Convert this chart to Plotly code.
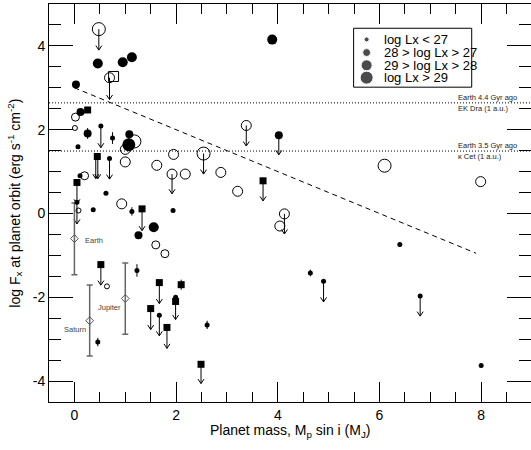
import plotly.graph_objects as go

# ---------------- data ----------------
# filled circles, by X-ray luminosity class
fs_x = [0.52, 0.75, 0.07, 0.69, 0.11, 0.62, 0.05, 0.37, 1.13, 1.94, 1.23, 1.67, 0.46, 2.61, 6.40, 4.64, 4.90, 6.80, 8.00, 1.99]
fs_y = [2.09, 1.80, 1.59, 1.31, 0.90, 0.48, 0.27, 0.09, 0.05, 0.07, -1.36, -2.43, -3.07, -2.66, -0.74, -1.42, -1.62, -1.97, -3.63, -2.00]
fs_err = [0, 0.14, 0, 0, 0, 0, 0, 0, 0.10, 0, 0.15, 0, 0.10, 0.10, 0, 0.08, 0, 0, 0, 0]

fm_x = [0.03, 0.12, 0.26, 1.08, 4.02, 1.26]
fm_y = [3.08, 2.42, 1.91, 1.89, 1.87, -0.52]
fm_err = [0, 0, 0.13, 0, 0, 0]

fl_x = [0.46, 0.95, 1.13, 3.89, 1.56]
fl_y = [3.58, 3.61, 3.73, 4.15, -0.33]

fx_x = [1.07]
fx_y = [1.64]

# open circles
os_x = [0.01, 0.08, 0.64]
os_y = [2.04, 0.07, -1.74]

om_x = [0.02, 0.20, 1.60, 1.78]
om_y = [2.30, 0.90, -0.75, -0.96]

ol_x = [0.69, 1.00, 3.38, 1.00, 1.62, 1.95, 1.92, 2.18, 2.88, 3.21, 0.93, 7.99, 4.13, 4.04]
ol_y = [3.24, 1.53, 2.10, 1.23, 1.15, 1.41, 0.94, 0.94, 0.98, 0.53, 0.23, 0.76, -0.01, -0.30]

ox_x = [0.48, 1.18, 2.54, 6.10]
ox_y = [4.40, 1.72, 1.43, 1.14]

# squares
sq_x = [0.26, 0.45, 0.05, 1.33, 0.52, 1.67, 2.10, 1.50, 1.82, 1.99, 2.49, 3.71]
sq_y = [2.47, 1.36, 0.74, 0.11, -1.22, -1.65, -1.70, -2.27, -2.72, -2.10, -3.60, 0.78]
sq_err = [0, 0, 0, 0, 0, 0, 0.12, 0, 0, 0, 0, 0]

osq_x = [0.77]
osq_y = [3.27]

# upper limits (arrows): x, from, to
arr_x = [0.48, 0.69, 0.52, 3.38, 4.02, 0.42, 0.46, 0.69, 1.92, 2.54, 0.05, 0.05, 1.33, 3.71,
         4.13, 0.52, 1.67, 1.50, 1.67, 1.82, 1.99, 2.49, 4.90, 6.80]
arr_y0 = [4.40, 3.24, 2.09, 2.10, 1.87, 1.36, 1.36, 1.31, 0.94, 1.43, 0.74, 0.27, 0.11, 0.78,
          -0.01, -1.22, -1.65, -2.27, -2.43, -2.72, -2.05, -3.60, -1.62, -1.97]
arr_y1 = [3.90, 2.72, 1.57, 1.61, 1.40, 0.83, 0.83, 0.82, 0.47, 0.94, 0.23, -0.25, -0.41, 0.30,
          -0.49, -1.71, -2.15, -2.77, -2.92, -3.22, -2.53, -4.06, -2.11, -2.45]

# solar-system planets
pl_names = ["Earth", "Saturn", "Jupiter"]
pl_x = [0.00, 0.30, 1.00]
pl_y = [-0.60, -2.56, -2.03]
pl_eplus = [0.85, 0.85, 0.85]
pl_eminus = [0.86, 0.84, 0.85]

# reference levels and trend
ref_y = [2.64, 1.49]
ref_above = ["Earth 4.4 Gyr ago", "Earth 3.5 Gyr ago"]
ref_below = ["EK Dra (1 a.u.)", "κ Cet (1 a.u.)"]
trend_x = [0.0, 7.9]
trend_y = [3.0, -0.95]

legend_labels = ["log Lx &lt; 27", "28 &gt; log Lx &gt; 27", "29 &gt; log Lx &gt; 28", "log Lx &gt; 29"]

x_tickvals = [0, 2, 4, 6, 8]
x_ticktext = ["0", "2", "4", "6", "8"]
y_tickvals = [-4, -2, 0, 2, 4]
y_ticktext = ["-4", "-2", "0", "2", "4"]

# ---------------- styles ----------------
S, M, L, XL = 5, 8, 10, 13
FONT = "Liberation Sans, Arial, Helvetica, sans-serif"
X_RANGE = [-0.5, 8.98]
Y_RANGE = [-4.5, 5.0]
PLOT_W, PLOT_H = 482, 398            # plot-area size in px (531-49, 450-4-48)
HEAD_W_PX, HEAD_H_PX = 3.0, 4.5      # arrow-head half width / height in px
hx = HEAD_W_PX * (X_RANGE[1] - X_RANGE[0]) / PLOT_W
hy = HEAD_H_PX * (Y_RANGE[1] - Y_RANGE[0]) / PLOT_H

fig = go.Figure()

# trend line
fig.add_trace(go.Scatter(x=trend_x, y=trend_y, mode="lines",
                         line=dict(color="black", width=1, dash="5px,4px"), hoverinfo="skip"))

# upper-limit arrows (shaft + open head), one path with gaps
ax_, ay_ = [], []
for x, y0, y1 in zip(arr_x, arr_y0, arr_y1):
    ax_ += [x, x, None, x - hx, x, x + hx, None]
    ay_ += [y0, y1, None, y1 + hy, y1, y1 + hy, None]
fig.add_trace(go.Scatter(x=ax_, y=ay_, mode="lines", line=dict(color="black", width=1),
                         connectgaps=False, hoverinfo="skip"))

# planets
fig.add_trace(go.Scatter(x=pl_x, y=pl_y, mode="markers",
                         marker=dict(symbol="diamond-open", size=6, color="#555", line=dict(width=1)),
                         error_y=dict(type="data", symmetric=False, array=pl_eplus, arrayminus=pl_eminus,
                                      color="#666", thickness=1.5, width=3)))


def add_pts(x, y, symbol, size, err=None):
    kw = {}
    if err is not None:
        kw["error_y"] = dict(type="data", array=err, color="black", thickness=1, width=0)
    if symbol.endswith("open"):
        marker = dict(symbol=symbol, size=size, color="black", line=dict(width=1, color="black"))
    else:
        marker = dict(symbol=symbol, size=size, color="black", line=dict(width=0))
    fig.add_trace(go.Scatter(x=x, y=y, mode="markers", marker=marker, **kw))


add_pts(os_x, os_y, "circle-open", S)
add_pts(om_x, om_y, "circle-open", M)
add_pts(ol_x, ol_y, "circle-open", L)
add_pts(ox_x, ox_y, "circle-open", XL)
add_pts(osq_x, osq_y, "square-open", 10)
add_pts(fs_x, fs_y, "circle", S, fs_err)
add_pts(fm_x, fm_y, "circle", M, fm_err)
add_pts(fl_x, fl_y, "circle", L)
add_pts(fx_x, fx_y, "circle", XL)
add_pts(sq_x, sq_y, "square", 7, sq_err)

# legend markers on a hidden unit axis pair
leg_y = [0.911, 0.878, 0.846, 0.815]
leg_sizes = [S, M, 11, XL]
fig.add_trace(go.Scatter(x=[0.659] * 4, y=leg_y, mode="markers", xaxis="x2", yaxis="y2",
                         marker=dict(symbol="circle", size=leg_sizes, color="black")))

annotations = []
for name, x, y in zip(pl_names, pl_x, pl_y):
    if name == "Earth":
        annotations.append(dict(x=x, y=y, text=name, showarrow=False, xanchor="left", xshift=9,
                                yshift=-2, font=dict(size=7.5, color="#444")))
    else:
        annotations.append(dict(x=x, y=y, text=name, showarrow=False, xanchor="right", xshift=-2,
                                yshift=-9, font=dict(size=7.5, color="#444")))

for yv, ta, tb in zip(ref_y, ref_above, ref_below):
    annotations.append(dict(x=7.51, y=yv, text=ta, showarrow=False, xanchor="left", yanchor="middle",
                            yshift=5.8, font=dict(size=7.5, color="#222")))
    annotations.append(dict(x=7.51, y=yv, text=tb, showarrow=False, xanchor="left", yanchor="middle",
                            yshift=-5.8, font=dict(size=7.5, color="#222")))

for lab, yv in zip(legend_labels, leg_y):
    annotations.append(dict(x=0.690, y=yv, xref="paper", yref="paper", text=lab, showarrow=False,
                            xanchor="left", yanchor="middle", font=dict(size=13)))

annotations.append(dict(x=0.5, y=-0.072, xref="paper", yref="paper",
                        text="Planet mass, M<sub>p</sub> sin i (M<sub>J</sub>)", showarrow=False,
                        xanchor="center", yanchor="middle", font=dict(size=14)))
annotations.append(dict(x=-0.0712, y=0.5, xref="paper", yref="paper", textangle=-90,
                        text="log F<sub>x</sub> at planet orbit (erg s<sup>-1</sup> cm<sup>-2</sup>)",
                        showarrow=False, xanchor="center", yanchor="middle", font=dict(size=14)))

shapes = []
for yv in ref_y:
    shapes.append(dict(type="line", xref="paper", x0=0, x1=1, yref="y", y0=yv, y1=yv,
                       line=dict(color="black", width=1, dash="1px,2px")))
shapes.append(dict(type="rect", xref="paper", yref="paper", x0=0.632, x1=0.877, y0=0.791, y1=0.939,
                   line=dict(color="black", width=1), fillcolor="rgba(0,0,0,0)"))

axis_common = dict(showline=True, linecolor="black", linewidth=1, mirror="allticks", ticks="inside",
                   tickcolor="black", tickwidth=1, showgrid=False, zeroline=False, automargin=False,
                   tickfont=dict(size=14))

fig.update_layout(
    width=531, height=450,
    margin=dict(l=49, r=0, t=4, b=48),
    plot_bgcolor="white", paper_bgcolor="white",
    showlegend=False,
    font=dict(family=FONT, size=14, color="black"),
    xaxis=dict(range=X_RANGE, tickvals=x_tickvals, ticktext=x_ticktext, ticklen=20,
               minor=dict(dtick=0.5, tick0=0, ticklen=10, tickwidth=1, tickcolor="black", ticks="inside",
                          showgrid=False),
               **axis_common),
    yaxis=dict(range=Y_RANGE, tickvals=y_tickvals, ticktext=y_ticktext, ticklen=24,
               minor=dict(dtick=0.5, tick0=0, ticklen=12, tickwidth=1, tickcolor="black", ticks="inside",
                          showgrid=False),
               **axis_common),
    xaxis2=dict(range=[0, 1], overlaying="x", visible=False),
    yaxis2=dict(range=[0, 1], overlaying="y", visible=False),
    annotations=annotations,
    shapes=shapes,
)

fig.write_html("out.html", config={"displayModeBar": False},
               post_script="document.body.style.margin='0';document.body.style.overflow='hidden';")
